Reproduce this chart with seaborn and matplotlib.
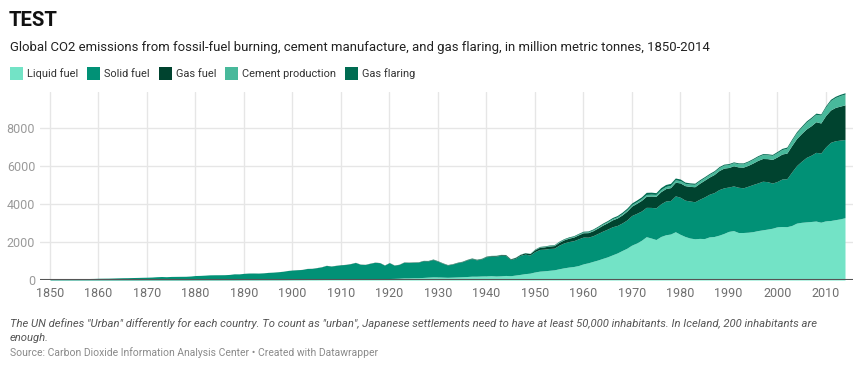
import numpy as np
import pandas as pd
import matplotlib
matplotlib.use("Agg")
import matplotlib.pyplot as plt
import seaborn as sns
from matplotlib.patches import Rectangle

# CO2 emissions by source, million metric tonnes, 1850-2014
years = np.arange(1850, 2015)

liquid_fuel = [
    0, 0, 0, 0, 0, 0, 0, 0, 0, 0,
    0, 0, 0, 0, 0, 0, 0, 0, 0, 0,
    1, 1, 1, 1, 1, 1, 1, 1, 1, 2,
    3, 3, 3, 4, 4, 4, 5, 5, 5, 6,
    9, 9, 9, 9, 10, 10, 11, 11, 12, 14,
    16, 17, 19, 21, 23, 23, 24, 28, 30, 32,
    34, 36, 39, 42, 44, 47, 52, 57, 57, 58,
    78, 84, 94, 110, 110, 120, 120, 135, 150, 162,
    160, 151, 142, 150, 160, 170, 183, 200, 200, 210,
    215, 225, 210, 220, 240, 225, 260, 295, 335, 360,
    423, 465, 485, 510, 535, 590, 640, 680, 710, 760,
    849, 904, 980, 1052, 1137, 1219, 1323, 1423, 1551, 1673,
    1838, 1944, 2090, 2280, 2210, 2130, 2290, 2380, 2420, 2540,
    2405, 2290, 2210, 2170, 2190, 2180, 2270, 2290, 2360, 2450,
    2560, 2600, 2500, 2500, 2515, 2545, 2600, 2640, 2680, 2725,
    2800, 2815, 2807, 2869, 2993, 3035, 3059, 3080, 3103, 3042,
    3114, 3131, 3175, 3218, 3280,
]

solid_fuel = [
    54, 54, 57, 59, 69, 71, 76, 77, 78, 83,
    91, 95, 97, 104, 112, 119, 122, 130, 135, 142,
    146, 155, 172, 183, 173, 187, 190, 193, 195, 208,
    233, 240, 253, 268, 271, 272, 274, 287, 318, 315,
    339, 355, 357, 353, 365, 388, 400, 420, 443, 482,
    506, 522, 534, 582, 586, 624, 666, 738, 702, 734,
    765, 780, 819, 879, 784, 768, 824, 872, 853, 723,
    831, 696, 724, 826, 815, 815, 820, 879, 853, 912,
    825, 726, 648, 684, 749, 788, 870, 925, 860, 896,
    1008, 1029, 1049, 1085, 1053, 849, 887, 1000, 1028, 951,
    1069, 1143, 1138, 1149, 1138, 1241, 1312, 1342, 1357, 1404,
    1411, 1349, 1350, 1397, 1434, 1460, 1478, 1447, 1448, 1486,
    1557, 1562, 1542, 1544, 1610, 1667, 1721, 1776, 1763, 1888,
    1951, 1911, 1949, 1947, 2062, 2192, 2244, 2310, 2398, 2399,
    2335, 2351, 2382, 2351, 2420, 2480, 2506, 2559, 2496, 2376,
    2386, 2500, 2523, 2815, 3025, 3212, 3392, 3488, 3616, 3637,
    3890, 4113, 4155, 4145, 4116,
]

gas_fuel = [
    0, 0, 0, 0, 0, 0, 0, 0, 0, 0,
    0, 0, 0, 0, 0, 0, 0, 0, 0, 0,
    0, 0, 0, 0, 0, 0, 0, 0, 0, 0,
    0, 0, 0, 0, 0, 1, 1, 1, 2, 2,
    3, 3, 3, 3, 3, 3, 3, 4, 4, 4,
    5, 5, 5, 6, 6, 6, 7, 7, 7, 8,
    8, 8, 8, 9, 9, 9, 10, 10, 10, 10,
    10, 10, 11, 13, 15, 16, 17, 19, 21, 24,
    23, 22, 20, 21, 22, 24, 26, 29, 28, 29,
    30, 32, 33, 36, 40, 38, 45, 55, 70, 80,
    97, 115, 124, 131, 138, 150, 161, 178, 192, 214,
    227, 240, 263, 286, 316, 337, 364, 392, 424, 467,
    493, 530, 560, 585, 600, 610, 640, 655, 680, 720,
    753, 765, 768, 792, 840, 881, 903, 954, 1000, 1040,
    1026, 1060, 1069, 1090, 1099, 1132, 1188, 1196, 1212, 1246,
    1292, 1316, 1350, 1389, 1426, 1460, 1497, 1551, 1611, 1584,
    1650, 1700, 1755, 1790, 1823,
]

cement_production = [
    0, 0, 0, 0, 0, 0, 0, 0, 0, 0,
    0, 0, 0, 0, 0, 0, 0, 0, 0, 0,
    0, 0, 0, 0, 0, 0, 0, 0, 0, 0,
    0, 0, 0, 0, 0, 0, 0, 0, 0, 0,
    0, 0, 0, 0, 0, 0, 0, 0, 0, 0,
    0, 0, 0, 0, 0, 0, 0, 0, 0, 0,
    0, 0, 0, 0, 0, 0, 0, 0, 0, 0,
    0, 0, 0, 0, 0, 0, 0, 0, 10, 11,
    10, 9, 7, 7, 8, 9, 11, 12, 12, 13,
    13, 13, 13, 11, 10, 8, 11, 12, 14, 15,
    18, 20, 22, 24, 27, 30, 32, 35, 36, 40,
    43, 45, 49, 51, 57, 59, 63, 65, 70, 74,
    78, 84, 89, 95, 96, 97, 105, 111, 118, 123,
    120, 121, 121, 125, 128, 131, 137, 143, 152, 156,
    157, 161, 167, 176, 186, 193, 198, 204, 205, 213,
    226, 234, 252, 276, 298, 320, 356, 382, 388, 413,
    446, 494, 518, 554, 568,
]

gas_flaring = [
    0, 0, 0, 0, 0, 0, 0, 0, 0, 0,
    0, 0, 0, 0, 0, 0, 0, 0, 0, 0,
    0, 0, 0, 0, 0, 0, 0, 0, 0, 0,
    0, 0, 0, 0, 0, 0, 0, 0, 0, 0,
    0, 0, 0, 0, 0, 0, 0, 0, 0, 0,
    0, 0, 0, 0, 0, 0, 0, 0, 0, 0,
    0, 0, 0, 0, 0, 0, 0, 0, 0, 0,
    0, 0, 0, 0, 0, 0, 0, 0, 0, 0,
    0, 0, 0, 0, 0, 0, 0, 0, 0, 0,
    0, 0, 0, 0, 0, 0, 0, 0, 0, 0,
    23, 24, 26, 27, 27, 31, 32, 35, 35, 36,
    39, 42, 44, 47, 51, 55, 60, 66, 73, 80,
    87, 88, 95, 110, 107, 92, 108, 104, 106, 98,
    86, 65, 65, 60, 60, 55, 53, 55, 55, 52,
    49, 45, 46, 45, 46, 48, 50, 52, 50, 50,
    61, 62, 64, 67, 65, 66, 66, 65, 65, 64,
    67, 70, 68, 68, 68,
]

series_names = ["Liquid fuel", "Solid fuel", "Gas fuel", "Cement production", "Gas flaring"]
series_colors = ["#73e3c6", "#019176", "#00432f", "#48b99b", "#006c52"]

x_ticks = list(range(1850, 2011, 10))
y_ticks = [0, 2000, 4000, 6000, 8000]

df = pd.DataFrame(
    dict(zip(series_names, [liquid_fuel, solid_fuel, gas_fuel, cement_production, gas_flaring])),
    index=years,
)

sns.set_theme(style="white")
plt.rcParams["font.family"] = ["Roboto", "DejaVu Sans"]

W, H = 865, 371
fig = plt.figure(figsize=(W / 100, H / 100), dpi=100)
renderer = fig.canvas.get_renderer()


def fx(px):
    return px / W


def fy(py):
    return 1 - py / H


def fit(txt, width_px):
    # shrink/grow a text so it spans the same width as in the reference
    w = txt.get_window_extent(renderer).width
    txt.set_fontsize(txt.get_fontsize() * width_px / w)
    return txt.get_fontsize()


# plot area: x 40..853 px, y 92..280 px
ax = fig.add_axes([fx(40), fy(280), fx(853) - fx(40), (280 - 92) / H])
palette = sns.color_palette(series_colors)
ax.stackplot(df.index, df.T.values, colors=palette, linewidth=0, zorder=2)

px_per_year = 4.85
ax.set_xlim(1850 - 10 / px_per_year, 2014 + 8 / px_per_year)
ax.set_ylim(0, (280 - 92) / 0.019)
ax.set_xticks(x_ticks)
ax.set_yticks(y_ticks)
ax.grid(True, color="#e6e6e6", linewidth=1)
ax.set_axisbelow(True)
for s in ax.spines.values():
    s.set_visible(False)
ax.axhline(0, color="#555555", linewidth=1.5, zorder=5)
ax.tick_params(axis="x", length=0, pad=5, labelsize=9, labelcolor="#6f6f6f")
ax.tick_params(axis="y", length=0, pad=3.5, labelsize=9, labelcolor="#9a9a9a")
ax.set_xlabel("")
ax.set_ylabel("")

# header
title = fig.text(fx(9), fy(20), "TEST", fontsize=16, fontweight="bold", color="#111111", va="center")
fit(title, 49)
sub = fig.text(fx(10), fy(48),
               "Global CO2 emissions from fossil-fuel burning, cement manufacture, and gas flaring, "
               "in million metric tonnes, 1850-2014",
               fontsize=10, color="#222222", va="center")
fit(sub, 698)

# legend
probe = fig.text(0, 0, "Liquid fuel", fontsize=9.5)
leg_fs = fit(probe, 51)
probe.remove()
x0 = 10
for name, col in zip(series_names, series_colors):
    fig.add_artist(Rectangle((fx(x0), fy(80)), 13 / W, 13 / H, transform=fig.transFigure,
                             facecolor=col, edgecolor="none"))
    t = fig.text(fx(x0 + 17), fy(74), name, fontsize=leg_fs, color="#333333", va="center")
    x0 = x0 + 17 + t.get_window_extent(renderer).width + 9

# footer
note = fig.text(fx(10), fy(324),
                "The UN defines \"Urban\" differently for each country. To count as \"urban\", Japanese "
                "settlements need to have at least 50,000 inhabitants. In Iceland, 200 inhabitants are",
                fontsize=9, style="italic", color="#555555", va="center")
note_fs = fit(note, 812)
fig.text(fx(10), fy(338), "enough.", fontsize=note_fs, style="italic", color="#555555", va="center")
src = fig.text(fx(10), fy(353),
               "Source: Carbon Dioxide Information Analysis Center \u2022 Created with Datawrapper",
               fontsize=8.5, color="#8a8a8a", va="center")
fit(src, 363)

fig.savefig("out.png", dpi=100, facecolor="white")
